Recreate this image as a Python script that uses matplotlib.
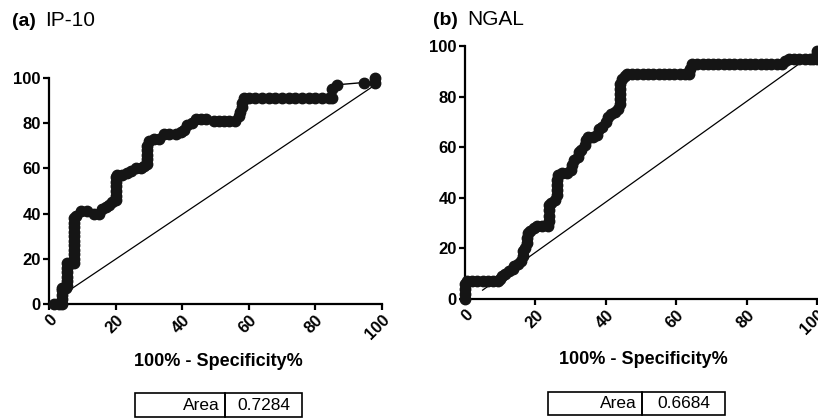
import matplotlib
matplotlib.use("Agg")
import matplotlib.pyplot as plt
from matplotlib.patches import Rectangle

plt.rcParams['font.family'] = ['Liberation Sans', 'DejaVu Sans']

# ROC points (100% - specificity, sensitivity)
ip10_fpr = [1.5, 3, 4, 4, 4, 4, 4, 5, 5.5, 5.5, 5.5, 5.5, 5.5, 5.5, 6.5, 7.5,
            7.5, 7.5, 7.5, 7.5, 7.5, 7.5, 7.5, 7.5, 7.5, 7.5, 8, 9.5, 11.5, 13.5,
            15, 16, 17, 18, 19, 20, 20, 20, 20, 20, 20, 20.5, 22, 23.5, 24.5, 26,
            27.5, 28.5, 29.5, 29.5, 29.5, 29.5, 29.5, 30, 31.5, 33, 34.5, 36, 38,
            39.5, 40.5, 41.5, 43, 44, 45.5, 47, 49.5, 51, 52.5, 54, 56, 57, 57.5,
            58, 58, 58.5, 60, 62, 64, 66, 68, 70, 72, 74, 76, 78, 80, 82, 84, 85,
            85, 86.5, 94.5, 98, 98]
ip10_tpr = [0, 0, 0, 2, 4, 6, 7, 7, 8, 10, 12, 14, 16, 18, 18, 18,
            20, 22, 24, 26, 28, 30, 32, 34, 36, 38, 39, 41, 41, 40,
            40, 42, 43, 44, 45, 46, 48, 50, 52, 54, 56, 57, 57, 58, 59, 60,
            60, 61, 62, 64, 66, 68, 70, 72, 73, 73, 75, 75, 75,
            76, 77, 79, 80, 82, 82, 82, 81, 81, 81, 81, 81, 83, 85,
            87, 89, 91, 91, 91, 91, 91, 91, 91, 91, 91, 91, 91, 91, 91, 91, 91,
            95, 97, 98, 98, 100]

ngal_fpr = [0, 0, 0, 0, 0.5, 2, 3.5, 5, 6.5, 8, 9.5, 10, 10.5, 11.5, 12.5, 13.5,
            14, 15, 16, 16.5, 16.5, 17, 17.5, 17.5, 18, 18.5, 19.5, 20.5, 22, 23.5,
            24, 24, 24, 24, 24.5, 25.5, 26, 26, 26, 26, 26.5, 27.5, 29, 30, 30.5,
            31, 32, 32.5, 33, 34, 34.5, 35, 36.5, 37.5, 38, 39, 40, 40.5, 41.5,
            42.5, 43.5, 44, 44, 44, 44, 44, 44.5, 45.5, 46, 47.5, 49, 50.5, 52, 53.5,
            55, 56.5, 58, 59.5, 61, 62.5, 63.5, 64, 64.5, 66, 67.5, 69, 70.5, 72,
            73.5, 75, 76.5, 78, 79.5, 81, 82.5, 84, 85.5, 87, 88.5, 90, 91, 92,
            93.5, 95, 96.5, 98, 99, 100, 100, 100]
ngal_tpr = [0, 2, 4, 6, 7, 7, 7, 7, 7, 7, 7, 8, 9, 10, 11, 12,
            13, 14, 15, 17, 19, 20, 22, 24, 26, 27, 28, 29, 29, 29,
            31, 33, 35, 37, 38, 39, 41, 43, 45, 47, 49, 50, 50, 51, 53,
            55, 56, 58, 59, 61, 63, 64, 64, 65, 67, 68, 70, 72, 73,
            74, 75, 77, 79, 81, 83, 85, 87, 88, 89, 89, 89, 89, 89, 89,
            89, 89, 89, 89, 89, 89, 89, 91, 93, 93, 93, 93, 93, 93,
            93, 93, 93, 93, 93, 93, 93, 93, 93, 93, 93, 93, 94, 95,
            95, 95, 95, 95, 95, 95, 97, 98]

ip10_diag = ([4, 98], [4, 97])
ngal_diag = ([5, 99], [3.5, 97])

ticks = [0, 20, 40, 60, 80, 100]
panels = [
    ("(a)", "IP-10", ip10_fpr, ip10_tpr, ip10_diag, "0.7284"),
    ("(b)", "NGAL", ngal_fpr, ngal_tpr, ngal_diag, "0.6684"),
]

W, H = 818, 419
fig = plt.figure(figsize=(W / 100, H / 100), dpi=100)

# pixel boxes: axes (left, top, right, bottom), title, xlabel, table
layout = [
    dict(ax=(49, 78, 382, 304), title=(12, 26), xlab=(218, 362), table=(135, 225, 302, 393, 417)),
    dict(ax=(465, 46, 817, 299), title=(433, 25), xlab=(643, 359), table=(548, 642, 725, 392, 415)),
]


def px(x, y):
    return x / W, 1 - y / H


for (tag, name, fpr, tpr, diag, area), lay in zip(panels, layout):
    l, t, r, b = lay["ax"]
    ax = fig.add_axes([l / W, 1 - b / H, (r - l) / W, (b - t) / H])
    ax.plot(diag[0], diag[1], color="black", lw=0.9)
    ax.plot(fpr, tpr, color="black", lw=1, marker="o", ms=7.5,
            mfc="#151515", mec="#151515", clip_on=False, zorder=3)
    ax.set_xlim(0, 100)
    ax.set_ylim(0, 100)
    ax.set_xticks(ticks)
    ax.set_yticks(ticks)
    for s in ["top", "right"]:
        ax.spines[s].set_visible(False)
    for s in ["left", "bottom"]:
        ax.spines[s].set_linewidth(1.6)
    ax.tick_params(direction="out", length=4, width=1.6, labelsize=12, pad=2)
    for lbl in ax.get_yticklabels():
        lbl.set_fontweight("bold")
    for lbl in ax.get_xticklabels():
        lbl.set_fontweight("bold")
        lbl.set_rotation(45)
        lbl.set_ha("right")
        lbl.set_va("top")
        lbl.set_rotation_mode("anchor")

    # panel title
    tx, ty = px(*lay["title"])
    tt = fig.text(tx, ty, tag, fontsize=14, fontweight="bold", va="baseline")
    fig.canvas.draw()
    bb = tt.get_window_extent()
    fig.text(bb.x1 / W + 9 / W, ty, name, fontsize=15, va="baseline")

    xx, xy = px(*lay["xlab"])
    fig.text(xx, xy, "100% - Specificity%", fontsize=13, fontweight="bold",
             ha="center", va="center")

    # area table
    x0, xm, x1, y0, y1 = lay["table"]
    for a, c in [(x0, xm), (xm, x1)]:
        fig.patches.append(Rectangle(px(a, y1), (c - a) / W, (y1 - y0) / H,
                                     transform=fig.transFigure, fill=False,
                                     edgecolor="black", lw=1.2))
    cy = 1 - (y0 + y1) / 2 / H
    fig.text((xm - 5) / W, cy, "Area", fontsize=12.5, ha="right", va="center")
    fig.text((xm + x1) / 2 / W, cy, area, fontsize=12.5, ha="center", va="center")

fig.savefig("out.png", dpi=100)
